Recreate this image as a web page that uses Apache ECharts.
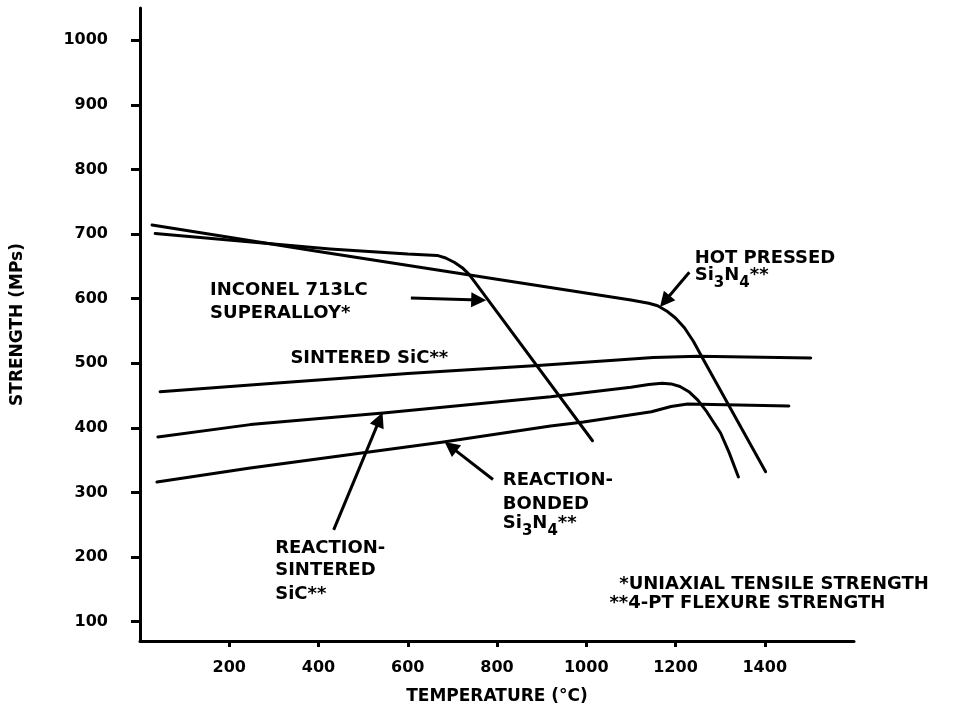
<!DOCTYPE html>
<html><head><meta charset="utf-8">
<script src="https://cdn.jsdelivr.net/npm/echarts@6/dist/echarts.min.js"></script>
<style>html,body{margin:0;padding:0;background:#fff}#c{width:974px;height:712px}</style>
</head><body><div id="c"></div>
<script>
// ---- data ----
const yTicks = [100, 200, 300, 400, 500, 600, 700, 800, 900, 1000];
const xTicks = [200, 400, 600, 800, 1000, 1200, 1400];
const hotPressedSi3N4 = [[27,714],[400,673],[800,630],[1100,598],[1140,593],[1160,589],[1180,581],[1200,570],[1220,555],[1240,534],[1263,505],[1402,332]];
const inconel713LC = [[34,701],[426,677],[600,669],[666,667],[685,663],[705,656],[722,648],[737,638],[750,626],[1014,380]];
const sinteredSiC = [[45,456],[300,469],[600,484],[900,497],[1070,505],[1150,509],[1250,511],[1503,508]];
const reactionSinteredSiC = [[40,386],[247,405],[545,423],[920,448],[1100,463],[1140,467],[1170,469],[1190,468],[1210,464],[1230,456],[1250,443],[1270,425],[1301,392],[1320,362],[1341,324]];
const reactionBondedSi3N4 = [[38,316],[247,338],[680,378],[920,403],[994,409],[1146,425],[1190,433],[1227,437],[1454,434]];

// annotation labels (anchored at left-middle, data coordinates)
const labelTexts = [
  {value:[157,613], text:'INCONEL 713LC'},
  {value:[157,578], text:'SUPERALLOY*'},
  {value:[337,508], text:'SINTERED SiC**'},
  {value:[1243,663], text:'HOT PRESSED'},
  {value:[1243,633], text:'{a|Si}{s|3}{a|N}{s|4}{a|**}'},
  {value:[813,318], text:'REACTION-'},
  {value:[813,281], text:'BONDED'},
  {value:[813,249], text:'{a|Si}{s|3}{a|N}{s|4}{a|**}'},
  {value:[303,214], text:'REACTION-'},
  {value:[303,179], text:'SINTERED'},
  {value:[303,143], text:'SiC**'},
  {value:[1074,157], text:'*UNIAXIAL TENSILE STRENGTH'},
  {value:[1052,129], text:'**4-PT FLEXURE STRENGTH'}
];
const arrows = [
  [[607,601],[759,598]],
  [[1231,641],[1176,596]],
  [[791,320],[696,371]],
  [[434,242],[537,413]]
];

const FONT = 'DejaVu Sans';
const lineSeries = (name, data) => ({
  name, type:'line', data, showSymbol:false, symbol:'none', smooth:false,
  lineStyle:{color:'#000', width:3, join:'round', cap:'round'}, z:3, silent:true
});

const chart = echarts.init(document.getElementById('c'), null, {renderer:'canvas'});
chart.setOption({
  backgroundColor:'#fff',
  animation:false,
  grid:{left:140, right:120, top:8, bottom:71, containLabel:false},
  xAxis:{
    type:'value', min:0, max:1600,
    name:'TEMPERATURE (°C)', nameLocation:'middle', nameGap:47,
    nameTextStyle:{fontFamily:FONT, fontWeight:'bold', fontSize:17, color:'#000'},
    axisLine:{show:true, lineStyle:{color:'#000', width:3}},
    axisTick:{show:true, length:6, lineStyle:{color:'#000', width:3}, customValues:xTicks},
    axisLabel:{fontFamily:FONT, fontWeight:'bold', fontSize:16, color:'#000', margin:19, customValues:xTicks, formatter:v => String(v)},
    splitLine:{show:false}
  },
  yAxis:{
    type:'value', min:70, max:1050,
    name:'STRENGTH (MPs)', nameLocation:'middle', nameGap:114, nameRotate:90,
    nameTextStyle:{fontFamily:FONT, fontWeight:'bold', fontSize:17, color:'#000'},
    axisLine:{show:true, lineStyle:{color:'#000', width:3}},
    axisTick:{show:true, length:9, lineStyle:{color:'#000', width:3}, customValues:yTicks},
    axisLabel:{fontFamily:FONT, fontWeight:'bold', fontSize:16, color:'#000', margin:32, customValues:yTicks, formatter:v => String(v)},
    splitLine:{show:false}
  },
  series:[
    lineSeries('HOT PRESSED Si3N4', hotPressedSi3N4),
    lineSeries('INCONEL 713LC', inconel713LC),
    lineSeries('SINTERED SiC', sinteredSiC),
    lineSeries('REACTION-SINTERED SiC', reactionSinteredSiC),
    lineSeries('REACTION-BONDED Si3N4', reactionBondedSi3N4),
    {
      type:'lines', coordinateSystem:'cartesian2d', silent:true, z:4,
      symbol:['none','triangle'], symbolSize:[10,15],
      itemStyle:{color:'#000', opacity:1},
      lineStyle:{color:'#000', width:3, opacity:1, curveness:0},
      data: arrows.map(c => ({coords:c}))
    },
    {
      type:'scatter', symbolSize:0, silent:true, z:5,
      itemStyle:{opacity:1, color:'#000'},
      data: labelTexts.map(d => ({value:d.value, label:{formatter:d.text}})),
      label:{
        show:true, position:'right', distance:0, color:'#000', opacity:1,
        fontFamily:FONT, fontWeight:'bold', fontSize:18,
        rich:{
          a:{fontFamily:FONT, fontWeight:'bold', fontSize:18, color:'#000', verticalAlign:'top', lineHeight:22},
          s:{fontFamily:FONT, fontWeight:'bold', fontSize:15, color:'#000', verticalAlign:'top', lineHeight:22, padding:[9,0,0,0]}
        }
      }
    }
  ]
});
</script></body></html>
